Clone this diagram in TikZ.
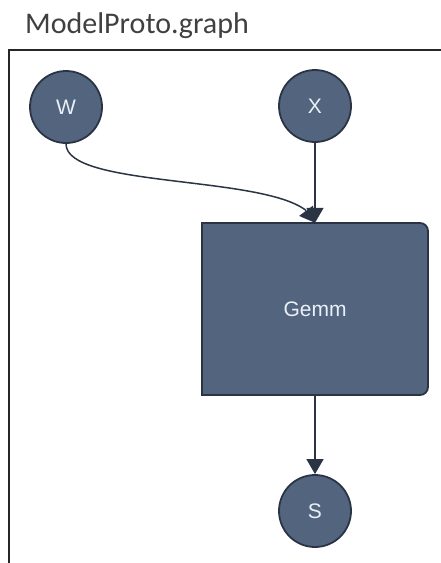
\documentclass[tikz,border=0pt]{standalone}
\usepackage{fontspec}
\setmainfont{Liberation Sans}
\newfontfamily\titlefont{Carlito}
\usetikzlibrary{arrows.meta,bending}
\definecolor{nodefill}{HTML}{53647F}
\definecolor{nodeline}{HTML}{2A3444}
\definecolor{nodetext}{HTML}{EAF0F8}
\definecolor{titlegray}{HTML}{404040}
\begin{document}
\begin{tikzpicture}[x=1pt,y=-1pt,
    var/.style={circle,fill=nodefill,draw=nodeline,line width=1.8pt,minimum size=72pt,inner sep=0pt,text=nodetext,font=\fontsize{21}{24}\selectfont},
    conn/.style={draw=nodeline,line width=1.5pt,-{Triangle[length=15pt,width=17pt,flex]}}]
    \useasboundingbox (0,0) rectangle (441,563);
    \node[anchor=base west,inner sep=0pt,text=titlegray,font=\titlefont\fontsize{30}{34}\selectfont] at (25,33) (title) {ModelProto.graph};
    \draw[line width=2pt,black!85] (441,50) -- (9,50) -- (9,563);
    % inputs and output
    \foreach \n/\x/\y in {W/66/107,X/315/106,S/315/511}{
        \node[var] at (\x,\y) (\n) {\n};
    }
    % the operator
    \filldraw[fill=nodefill,draw=nodeline,line width=1.8pt] (202,395) -- (202,223) [rounded corners=8pt] -- (428,223) -- (428,395) [sharp corners] -- cycle;
    \node[minimum width=226pt,minimum height=172pt,inner sep=0pt,text=nodetext,font=\fontsize{21}{24}\selectfont] at (315,309) (G) {Gemm};
    \draw[conn] (X) -- (G.north);
    \draw[conn] (W) .. controls (66,192) and (302,172) .. (G.north);
    \draw[conn] (G) -- (S);
\end{tikzpicture}
\end{document}
